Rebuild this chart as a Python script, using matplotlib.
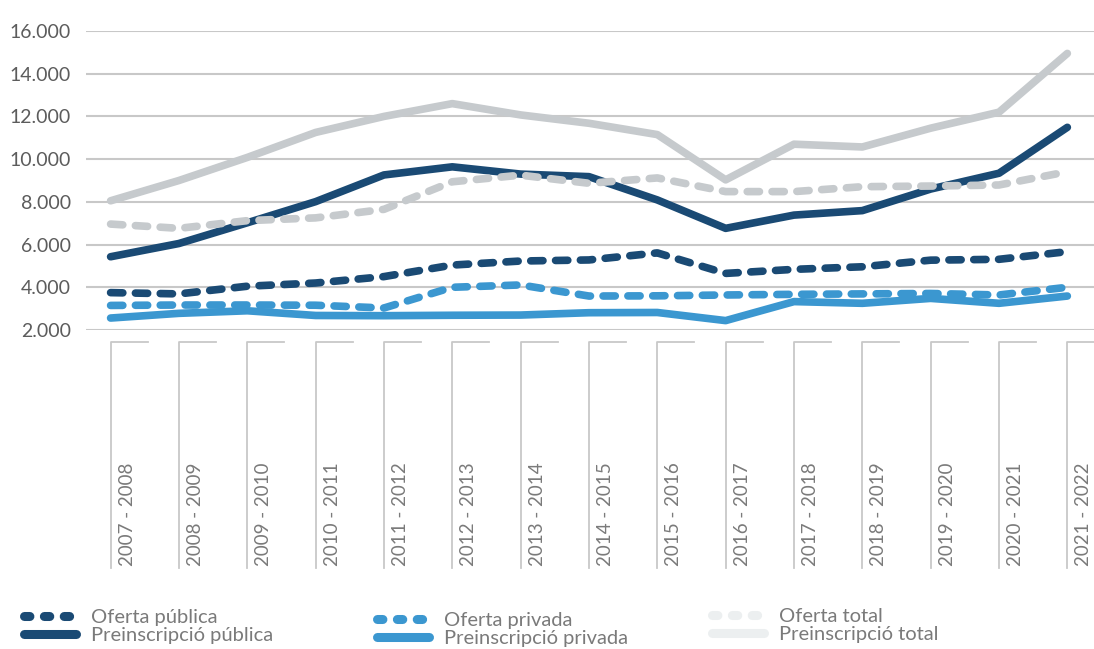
import matplotlib
matplotlib.use("Agg")
import matplotlib.pyplot as plt
from matplotlib.lines import Line2D
import matplotlib.transforms as mtransforms
import numpy as np

# cursos
cursos = ["2007 - 2008", "2008 - 2009", "2009 - 2010", "2010 - 2011", "2011 - 2012",
          "2012 - 2013", "2013 - 2014", "2014 - 2015", "2015 - 2016", "2016 - 2017",
          "2017 - 2018", "2018 - 2019", "2019 - 2020", "2020 - 2021", "2021 - 2022"]

oferta_publica = [3750, 3690, 4050, 4200, 4500, 5040, 5230, 5280, 5610, 4650,
                  4840, 4960, 5270, 5310, 5670]
oferta_privada = [3150, 3170, 3170, 3160, 3030, 4000, 4110, 3590, 3600, 3640,
                  3670, 3690, 3710, 3640, 4000]
oferta_total = [6960, 6760, 7120, 7250, 7650, 8940, 9250, 8870, 9120, 8480,
                8480, 8710, 8740, 8790, 9410]
preins_publica = [5430, 6050, 7020, 8010, 9260, 9640, 9300, 9180, 8090, 6760,
                  7380, 7590, 8600, 9340, 11490]
preins_privada = [2560, 2780, 2900, 2680, 2670, 2690, 2700, 2810, 2820, 2440,
                  3330, 3250, 3480, 3250, 3590]
preins_total = [8050, 9000, 10080, 11250, 12000, 12600, 12070, 11680, 11150, 9030,
                10700, 10570, 11450, 12200, 14950]

yticks = [2000, 4000, 6000, 8000, 10000, 12000, 14000, 16000]

NAVY = "#1a4a74"
BLUE = "#3b97d0"
GRAY = "#c6cacd"
GRAY_LEG = "#eceff0"
TXT = "#5c5c5c"
TXT2 = "#7a7a7a"
GRID = "#c8c8c8"

plt.rcParams['font.family'] = ['Lato', 'DejaVu Sans']

fig = plt.figure(figsize=(10.94, 6.49), dpi=100)
ax = fig.add_axes([86 / 1094, 1 - 330 / 649, 1008 / 1094, 299 / 649])

x = np.arange(len(cursos))
dash = (0, (1.6, 1.65))
lw = 5.5

ax.plot(x, preins_total, color=GRAY, lw=lw, solid_capstyle='round', solid_joinstyle='round')
ax.plot(x, preins_privada, color=BLUE, lw=lw, solid_capstyle='round', solid_joinstyle='round')
ax.plot(x, preins_publica, color=NAVY, lw=lw, solid_capstyle='round', solid_joinstyle='round')
ax.plot(x, oferta_total, color=GRAY, lw=lw, ls=dash, dash_capstyle='round', dash_joinstyle='round')
ax.plot(x, oferta_privada, color=BLUE, lw=lw, ls=dash, dash_capstyle='round', dash_joinstyle='round')
ax.plot(x, oferta_publica, color=NAVY, lw=lw, ls=dash, dash_capstyle='round', dash_joinstyle='round')

ax.set_xlim(-0.36, 14.39)
ax.set_ylim(2000, 16000)
ax.set_yticks(yticks)
ax.set_yticklabels([f"{v:,}".replace(",", ".") for v in yticks])
ax.yaxis.grid(True, color=GRID, lw=1.5)
ax.set_axisbelow(True)
ax.tick_params(axis='y', length=0, pad=11, labelsize=14, labelcolor=TXT)
ax.set_xticks([])
for s in ax.spines.values():
    s.set_visible(False)

# caixes de les etiquetes de curs
trans = mtransforms.blended_transform_factory(ax.transData, ax.transAxes)
for i, lab in enumerate(cursos):
    ax.plot([i + 0.54, i, i], [-0.039, -0.039, -0.797], color=GRID, lw=1.3,
            transform=trans, clip_on=False)
    ax.text(i + 0.24, -0.79, lab, rotation=90, ha='center', va='bottom',
            fontsize=13.5, color=TXT2, transform=trans)

# llegenda
dots = (0, (0.6, 1.6))
def legend_col(xf, yf, color, labels):
    h = [Line2D([], [], color=color, lw=6.5, ls=dots, dash_capstyle='round'),
         Line2D([], [], color=color, lw=6.5, solid_capstyle='round')]
    fig.legend(h, labels, loc='upper left', bbox_to_anchor=(xf, yf), frameon=False,
               fontsize=14.5, handlelength=2.6, handletextpad=0.75, labelspacing=0.05,
               borderpad=0, borderaxespad=0, labelcolor=TXT2)

legend_col(24 / 1094, 1 - 609 / 649, NAVY, ["Oferta pública", "Preinscripció pública"])
legend_col(377 / 1094, 1 - 612 / 649, BLUE, ["Oferta privada", "Preinscripció privada"])
legend_col(712 / 1094, 1 - 608 / 649, GRAY_LEG, ["Oferta total", "Preinscripció total"])

fig.savefig("out.png", dpi=100)
